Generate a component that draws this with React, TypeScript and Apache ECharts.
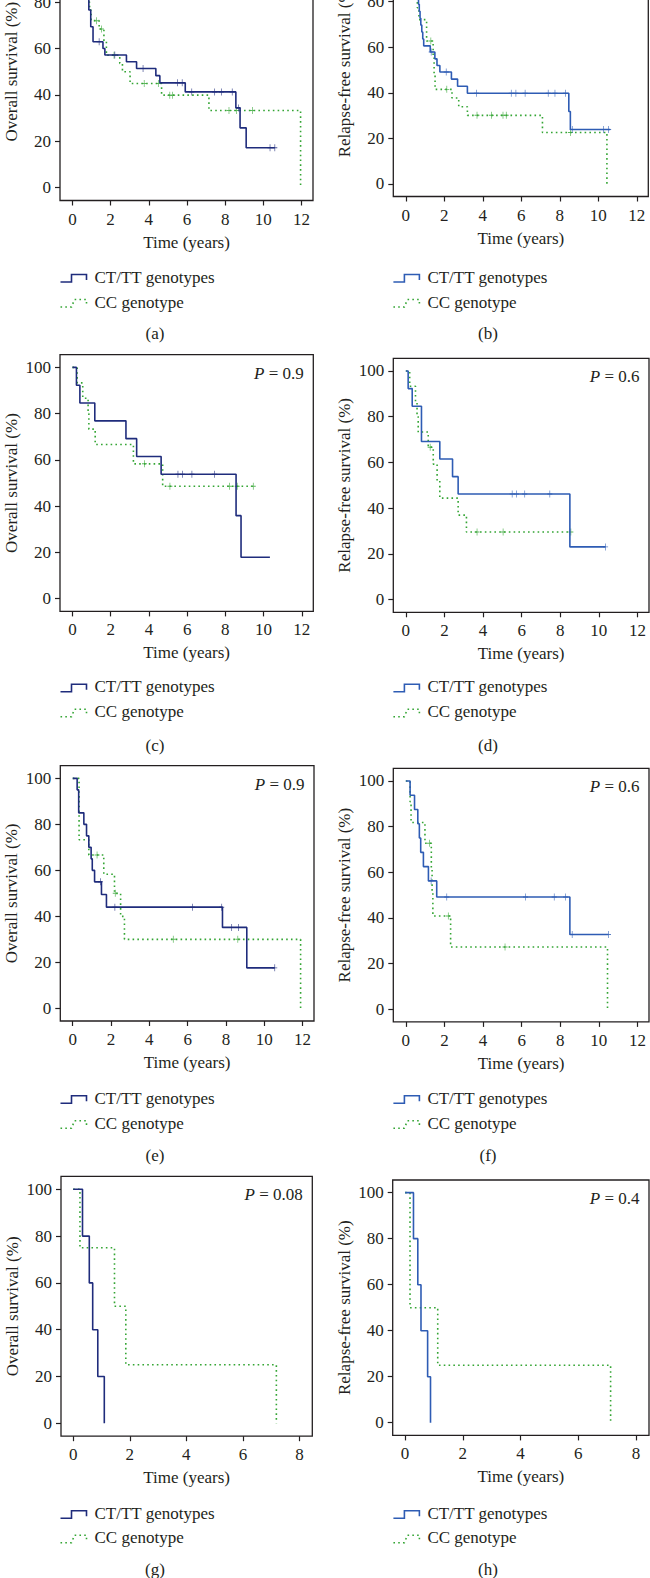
import { useEffect, useRef } from "react";
import * as echarts from "echarts";

const FONT = "'Liberation Serif', 'Times New Roman', serif";
const FS = 17;
const INK = "#231f20";
const NAVY = "#1f2c7c";
const BLUE = "#2e5cb4";
const GREEN = "#34a534";

// ---- data: time (years) and survival (%) of each Kaplan-Meier step ----
// (a) overall survival
const aCtTime = [0, 0.2, 0.35, 0.5, 0.65, 0.78, 0.86, 0.96, 1.08, 1.6, 1.7, 2.83, 3.36, 4.37, 4.58, 5.91, 8.56, 8.78, 9.1, 10.6];
const aCtSurv = [100, 96.6, 93.1, 89.7, 86.2, 82.8, 76.6, 69.4, 62.9, 60, 57.2, 54.3, 51.4, 48.3, 45.2, 41.3, 34.4, 25.8, 17.2, 17.2];
const aCtCens = [1.4, 2.22, 3.7, 5.51, 5.75, 6.25, 7.45, 7.8, 8.37, 8.7, 10.35, 10.6];
const aCcTime = [0, 0.3, 0.55, 0.7, 0.82, 0.9, 0.98, 1.4, 1.65, 1.78, 2.48, 2.62, 3.02, 4.67, 7.15, 11.95];
const aCcSurv = [100, 95, 90, 85, 80, 76.6, 72, 68.4, 63, 57.1, 53.6, 50, 44.9, 39.9, 33.3, 0];
const aCcCens = [1.26, 1.52, 2.18, 3.76, 4.5, 5.1, 5.25, 8.2, 8.6, 9.43];
// (b) relapse-free survival
const bCtTime = [0, 0.12, 0.22, 0.32, 0.42, 0.52, 0.6, 0.66, 0.7, 0.74, 0.78, 0.83, 0.88, 0.93, 1.27, 1.51, 1.62, 1.77, 2.37, 2.69, 3.2, 8.47, 8.55, 10.62];
const bCtSurv = [100, 97, 93.9, 90.9, 87.9, 84.8, 81.8, 78.8, 75.8, 72.7, 69.7, 66.7, 63.6, 60.6, 57.9, 54.9, 52, 49.1, 46, 42.9, 39.8, 31.8, 23.9, 23.9];
const bCtCens = [1.32, 2.1, 3.67, 5.48, 5.72, 6.2, 7.4, 7.75, 8.3, 8.65, 10.28, 10.54];
const bCcTime = [0, 0.2, 0.35, 0.45, 0.53, 0.6, 0.68, 1.08, 1.42, 1.47, 1.52, 2.4, 2.75, 3.2, 7.1, 10.45];
const bCcSurv = [100, 95.5, 90.9, 86.4, 81.8, 77.3, 72.1, 62.7, 55.4, 48.5, 41.5, 37.7, 33.9, 30.1, 22.6, 0];
const bCcCens = [1.3, 2.13, 3.7, 4.45, 5.05, 5.22, 8.55];
// (c) overall survival
const cCtTime = [0, 0.21, 0.39, 1.17, 2.8, 3.36, 4.64, 8.56, 8.82, 10.33];
const cCtSurv = [100, 92.3, 84.6, 76.9, 69.2, 61.5, 53.8, 35.9, 17.9, 17.9];
const cCtCens = [5.52, 5.76, 6.25, 7.44];
const cCcTime = [0, 0.25, 0.54, 0.82, 0.86, 1.19, 3.19, 4.72, 9.5];
const cCcSurv = [100, 93.3, 86.7, 80, 73.3, 66.7, 58.3, 48.6, 48.6];
const cCcCens = [3.77, 5.1, 8.22, 8.62, 9.46];
// (d) relapse-free survival
const dCtTime = [0, 0.12, 0.33, 0.81, 1.76, 2.42, 2.71, 8.5, 10.35];
const dCtSurv = [100, 92.3, 84.6, 69.2, 61.5, 53.8, 46.2, 23.1, 23.1];
const dCtCens = [5.51, 5.73, 6.16, 7.46, 10.35];
const dCcTime = [0, 0.2, 0.5, 0.58, 0.64, 1.16, 1.42, 1.62, 1.76, 2.71, 3.14, 8.55];
const dCcSurv = [100, 93.3, 86.7, 80, 73.3, 66.7, 59.3, 51.9, 44.4, 37, 29.6, 29.6];
const dCcCens = [1.26, 3.69, 5.04, 8.55];
// (e) overall survival
const eCtTime = [0, 0.23, 0.31, 0.58, 0.72, 0.84, 0.96, 1.02, 1.14, 1.5, 1.76, 7.82, 9.09, 10.55];
const eCtSurv = [100, 95, 85, 80, 75, 70, 65, 60, 55, 49.5, 44, 35.2, 17.6, 17.6];
const eCtCens = [1.45, 2.2, 6.25, 7.78, 8.3, 8.65, 10.55];
const eCcTime = [0, 0.33, 0.84, 1.62, 2.18, 2.5, 2.7, 11.9];
const eCcSurv = [100, 73.3, 66.7, 58.3, 50, 40, 30, 0];
const eCcCens = [1.27, 2.22, 5.25, 8.62];
// (f) relapse-free survival
const fCtTime = [0, 0.22, 0.45, 0.62, 0.7, 0.77, 0.91, 1.17, 1.6, 8.5, 10.5];
const fCtSurv = [100, 93.75, 87.5, 81.25, 75, 68.75, 62.5, 56.25, 49.2, 32.8, 32.8];
const fCtCens = [1.31, 2.12, 6.2, 7.69, 8.28, 8.62, 10.5];
const fCcTime = [0, 0.22, 0.27, 0.99, 1.32, 1.36, 1.4, 2.32, 10.45];
const fCcSurv = [100, 90.9, 81.8, 72.7, 61.4, 51.1, 40.9, 27.3, 0];
const fCcCens = [1.22, 2.2, 5.14];
// (g) overall survival
const gCtTime = [0, 0.33, 0.57, 0.69, 0.87, 1.1];
const gCtSurv = [100, 80, 60, 40, 20, 0];
const gCtCens: number[] = [];
const gCcTime = [0, 0.24, 1.46, 1.86, 7.18];
const gCcSurv = [100, 75, 50, 25, 0];
const gCcCens: number[] = [];
// (h) relapse-free survival
const hCtTime = [0, 0.29, 0.44, 0.55, 0.78, 0.88];
const hCtSurv = [100, 80, 60, 40, 20, 0];
const hCtCens: number[] = [];
const hCcTime = [0, 0.17, 1.13, 7.12];
const hCcSurv = [100, 50, 25, 0];
const hCcCens: number[] = [];

const captions = ["(a)", "(b)", "(c)", "(d)", "(e)", "(f)", "(g)", "(h)"];
const pValues = ["", "", "0.9", "0.6", "0.9", "0.6", "0.08", "0.4"];
const yNames = [
  "Overall survival (%)", "Relapse-free survival (%)",
  "Overall survival (%)", "Relapse-free survival (%)",
  "Overall survival (%)", "Relapse-free survival (%)",
  "Overall survival (%)", "Relapse-free survival (%)",
];
const xName = "Time (years)";
const ctLabel = "CT/TT genotypes";
const ccLabel = "CC genotype";
const yTicks = [0, 20, 40, 60, 80, 100];
const xTicks12 = [0, 2, 4, 6, 8, 10, 12];
const xTicks8 = [0, 2, 4, 6, 8];

const panelData = [
  [aCtTime, aCtSurv, aCtCens, aCcTime, aCcSurv, aCcCens],
  [bCtTime, bCtSurv, bCtCens, bCcTime, bCcSurv, bCcCens],
  [cCtTime, cCtSurv, cCtCens, cCcTime, cCcSurv, cCcCens],
  [dCtTime, dCtSurv, dCtCens, dCcTime, dCcSurv, dCcCens],
  [eCtTime, eCtSurv, eCtCens, eCcTime, eCcSurv, eCcCens],
  [fCtTime, fCtSurv, fCtCens, fCcTime, fCcSurv, fCcCens],
  [gCtTime, gCtSurv, gCtCens, gCcTime, gCcSurv, gCcCens],
  [hCtTime, hCtSurv, hCtCens, hCcTime, hCcSurv, hCcCens],
];

// ---- layout (pixels) ----
const boxes = [
  [60, -57.1, 253, 257.6],
  [393.3, -56.5, 255, 253],
  [60, 354.7, 253.3, 256.7],
  [393.3, 358.4, 255.7, 253.9],
  [60.3, 765.7, 253.7, 255.3],
  [393.3, 768.4, 255.7, 253.5],
  [61, 1176.4, 251.3, 259.8],
  [392.7, 1180, 256.3, 255.4],
];
const legendRows = [[277, 302], [686.7, 711.7], [1098.3, 1123.3], [1513.3, 1537.7]];
const captionRows = [333, 745, 1155, 1569];
const PLUS = "path://M4.3,0H5.7V4.3H10V5.7H5.7V10H4.3V5.7H0V4.3H4.3Z";

function survAt(times: number[], surv: number[], t: number) {
  let s = surv[0];
  for (let i = 0; i < times.length; i++) if (times[i] <= t) s = surv[i];
  return s;
}

function buildOption() {
  const grid: any[] = [];
  const xAxis: any[] = [];
  const yAxis: any[] = [];
  const series: any[] = [];
  const graphic: any[] = [];
  const txt = { fontFamily: FONT, fontSize: FS, color: INK };

  boxes.forEach((b, i) => {
    const right = i % 2 === 1;
    const short = i >= 6;
    const ctColor = right ? BLUE : NAVY;
    grid.push({
      left: b[0], top: b[1], width: b[2], height: b[3],
      show: true, borderColor: INK, borderWidth: 1.3, backgroundColor: "transparent",
      containLabel: false, outerBoundsMode: "none",
    });
    const xt = short ? xTicks8 : xTicks12;
    xAxis.push({
      gridIndex: i, type: "value", position: "bottom",
      min: short ? -0.43 : -0.65, max: short ? 8.45 : 12.6,
      axisLine: { show: false, onZero: false },
      axisTick: { show: true, inside: false, length: 5, customValues: xt, lineStyle: { color: INK, width: 1.2 } },
      axisLabel: { customValues: xt, margin: 10, ...txt },
      splitLine: { show: false },
      name: xName, nameLocation: "middle", nameGap: 33, nameMoveOverlap: false,
      nameTextStyle: txt,
    });
    yAxis.push({
      gridIndex: i, type: "value", position: "left", min: -5.5, max: 105.5,
      axisLine: { show: false, onZero: false },
      axisTick: { show: true, inside: false, length: 5, customValues: yTicks, lineStyle: { color: INK, width: 1.2 } },
      axisLabel: { customValues: yTicks, margin: 9, ...txt },
      splitLine: { show: false },
      name: yNames[i], nameLocation: "middle", nameGap: 40, nameMoveOverlap: false,
      nameTextStyle: txt,
    });

    const [ctT, ctS, ctC, ccT, ccS, ccC] = panelData[i];
    series.push({
      type: "line", xAxisIndex: i, yAxisIndex: i, step: "end", showSymbol: false,
      data: ccT.map((t, k) => [t, ccS[k]]),
      lineStyle: { color: GREEN, width: 1.6, type: [1.6, 3.2] }, z: 2,
    });
    series.push({
      type: "scatter", xAxisIndex: i, yAxisIndex: i, symbol: PLUS, symbolSize: [5, 7],
      data: ccC.map((t) => [t, survAt(ccT, ccS, t)]),
      itemStyle: { color: GREEN }, z: 3,
    });
    series.push({
      type: "line", xAxisIndex: i, yAxisIndex: i, step: "end", showSymbol: false,
      data: ctT.map((t, k) => [t, ctS[k]]),
      lineStyle: { color: ctColor, width: 1.6 }, z: 4,
    });
    series.push({
      type: "scatter", xAxisIndex: i, yAxisIndex: i, symbol: PLUS, symbolSize: [5, 7],
      data: ctC.map((t) => [t, survAt(ctT, ctS, t)]),
      itemStyle: { color: ctColor }, z: 5,
    });

    // P value
    if (pValues[i]) {
      graphic.push({
        type: "text", x: b[0] + b[2] - 9.5, y: b[1] + 18.5,
        style: {
          text: "{i|P} = " + pValues[i],
          rich: { i: { fontStyle: "italic", fontFamily: FONT, fontSize: FS, fill: INK } },
          fontFamily: FONT, fontSize: FS, fill: INK,
          align: "right", textAlign: "right", verticalAlign: "middle", textVerticalAlign: "middle",
        },
      });
    }
    // legend
    const row = Math.floor(i / 2);
    const lx = right ? 393.4 : 60.5;
    const [y1, y2] = legendRows[row];
    graphic.push({
      type: "polyline",
      shape: { points: [[lx, y1 + 5], [lx + 11, y1 + 5], [lx + 11, y1 - 2.5], [lx + 26, y1 - 2.5], [lx + 26, y1 + 3]] },
      style: { stroke: ctColor, lineWidth: 1.6, fill: "none" },
    });
    graphic.push({
      type: "text", x: lx + 34, y: y1,
      style: { text: ctLabel, fontFamily: FONT, fontSize: FS, fill: INK, verticalAlign: "middle", textVerticalAlign: "middle" },
    });
    graphic.push({
      type: "polyline",
      shape: { points: [[lx, y2 + 5], [lx + 11, y2 + 5], [lx + 14, y2 - 2.5], [lx + 26, y2 - 2.5], [lx + 26, y2 + 3]] },
      style: { stroke: GREEN, lineWidth: 1.6, fill: "none", lineDash: [1.6, 3.2] },
    });
    graphic.push({
      type: "text", x: lx + 34, y: y2,
      style: { text: ccLabel, fontFamily: FONT, fontSize: FS, fill: INK, verticalAlign: "middle", textVerticalAlign: "middle" },
    });
    graphic.push({
      type: "text", x: right ? 488 : 155, y: captionRows[row],
      style: {
        text: captions[i], fontFamily: FONT, fontSize: FS, fill: INK,
        align: "center", textAlign: "center", verticalAlign: "middle", textVerticalAlign: "middle",
      },
    });
  });

  return {
    animation: false,
    backgroundColor: "#ffffff",
    textStyle: { fontFamily: FONT },
    grid, xAxis, yAxis, series, graphic,
  };
}

export default function App() {
  const ref = useRef<HTMLDivElement>(null);
  useEffect(() => {
    if (!ref.current) return;
    const chart = echarts.init(ref.current, undefined, { renderer: "svg" });
    chart.setOption(buildOption() as any);
    return () => chart.dispose();
  }, []);
  return (
    <div
      ref={ref}
      style={{ position: "absolute", left: 0, top: 0, width: 650, height: 1578, background: "#fff" }}
    />
  );
}
